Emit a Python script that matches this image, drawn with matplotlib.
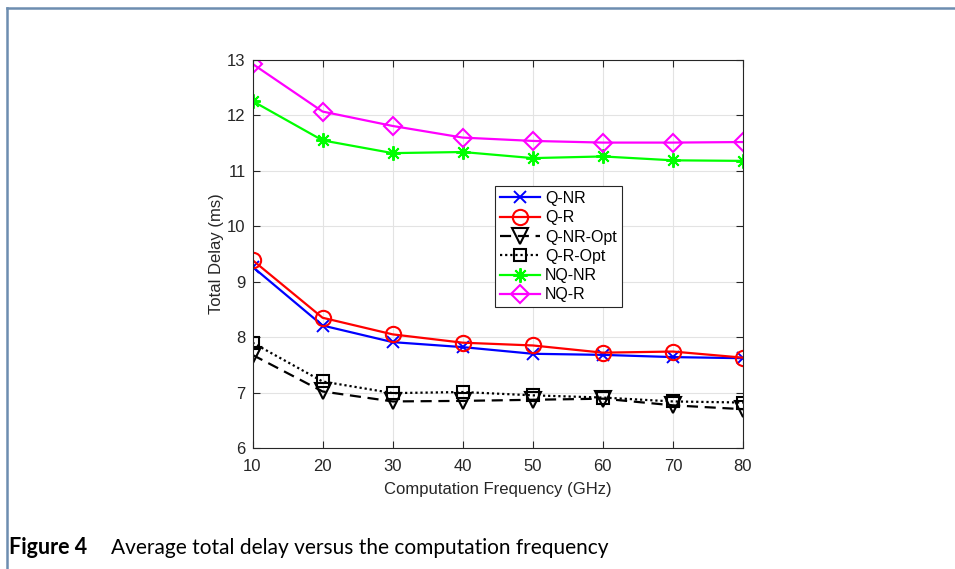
import numpy as np
import matplotlib
matplotlib.use('Agg')
import matplotlib.pyplot as plt
from matplotlib.lines import Line2D

freq = [10, 20, 30, 40, 50, 60, 70, 80]
q_nr = [9.27, 8.21, 7.91, 7.82, 7.70, 7.68, 7.64, 7.62]
q_r = [9.39, 8.35, 8.05, 7.90, 7.85, 7.72, 7.74, 7.63]
q_nr_opt = [7.68, 7.02, 6.84, 6.85, 6.87, 6.89, 6.77, 6.70]
q_r_opt = [7.90, 7.20, 6.99, 7.01, 6.95, 6.91, 6.84, 6.82]
nq_nr = [12.26, 11.55, 11.32, 11.34, 11.23, 11.26, 11.19, 11.18]
nq_r = [12.93, 12.07, 11.81, 11.60, 11.54, 11.51, 11.51, 11.52]
caption = 'Average total delay versus the computation frequency'

plt.rcParams['font.family'] = ['Liberation Sans', 'DejaVu Sans']

fig = plt.figure(figsize=(9.55, 5.69), dpi=100)
ax = fig.add_axes([252.5/955, 1-448/569, (743-252.5)/955, (448-60)/569])

lw = 1.6
ms = 11
ax.plot(freq, q_nr, color='#0000ff', marker='x', ms=ms*0.75, mew=1.4, lw=lw, label='Q-NR')
ax.plot(freq, q_r, color='#ff0000', marker='o', ms=ms, mfc='none', mew=1.5, lw=lw, label='Q-R')
ax.plot(freq, q_nr_opt, color='k', marker='v', ms=ms, mfc='none', mew=1.5, lw=lw,
        ls=(0, (5, 3)), label='Q-NR-Opt')
ax.plot(freq, q_r_opt, color='k', marker='s', ms=ms*0.8, mfc='none', mew=1.5, lw=lw,
        ls=(0, (1, 1.3)), label='Q-R-Opt')
ax.plot(freq, nq_nr, color='#00ff00', marker=(8, 2, 0), ms=ms*0.95, mew=1.4, lw=lw, label='NQ-NR')
ax.plot(freq, nq_r, color='#ff00ff', marker='D', ms=ms*0.85, mfc='none', mew=1.5, lw=lw, label='NQ-R')

ax.set_xlim(10, 80)
ax.set_ylim(6, 13)
ax.set_xticks(freq)
ax.set_yticks(np.arange(6, 14, 1))
ax.grid(True, color='#e3e3e3', lw=0.8)
ax.set_axisbelow(True)
ax.tick_params(direction='in', length=5, width=0.8, top=True, right=True,
               labelsize=12, colors='#262626')
ax.tick_params(axis='x', pad=8)
ax.tick_params(axis='y', pad=5)
for s in ax.spines.values():
    s.set_color('#262626')
    s.set_linewidth(0.8)
ax.set_xlabel('Computation Frequency (GHz)', fontsize=12, color='#262626', labelpad=6)
ax.set_ylabel('Total Delay (ms)', fontsize=12, color='#262626', labelpad=2)

leg = ax.legend(loc='upper left', bbox_to_anchor=(0.494, 0.675), borderaxespad=0,
                fontsize=11.5, handlelength=2.55, handletextpad=0.3, labelspacing=0.27,
                borderpad=0.3, fancybox=False, framealpha=1, edgecolor='#262626')
leg.get_frame().set_linewidth(0.8)

# outer frame of the figure box
fig.add_artist(Line2D([6.5/955, 1], [1-7.5/569, 1-7.5/569], color='#6d8db0', lw=1.8))
fig.add_artist(Line2D([6.5/955, 6.5/955], [0, 1-7.5/569], color='#6d8db0', lw=1.8))

fig.text(9/955, 1-548/569, 'Figure 4', fontsize=15.5, fontweight='bold', va='center',
         family=['Lato', 'DejaVu Sans'])
fig.text(111/955, 1-548/569, caption, fontsize=15, va='center', family=['Lato', 'DejaVu Sans'])

fig.savefig('out.png', dpi=100)
